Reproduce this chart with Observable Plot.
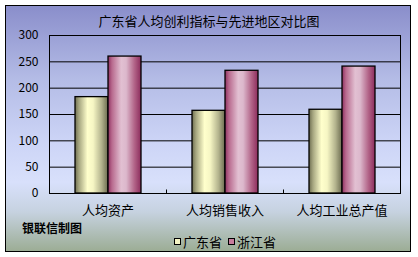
<!DOCTYPE html>
<html><head><meta charset="utf-8">
<script src="https://cdn.jsdelivr.net/npm/d3@7"></script>
<script src="https://cdn.jsdelivr.net/npm/@observablehq/plot@0.6"></script>
<style>
html,body{margin:0;padding:0;background:#fff;}
#wrap{position:relative;width:418px;height:257px;overflow:hidden;font-family:"Noto Sans CJK SC",sans-serif;color:#000;}
#box{position:absolute;left:5px;top:5px;width:404px;height:245px;border:1px solid #000;
 background:linear-gradient(to bottom,#8a8ecb 0%,#b4bce6 30%,#ccd4f6 55%,#d8e0fb 72%,#c6d2e0 84%,#9cad95 100%);}
#chart{position:absolute;left:0;top:0;}
#title{position:absolute;left:0;width:418px;top:12px;text-align:center;font-size:13px;line-height:18px;}
#src{position:absolute;left:22px;top:220px;font-size:12px;font-weight:bold;line-height:16px;}
#legend{position:absolute;left:174px;top:233px;font-size:13px;line-height:17px;display:flex;align-items:center;}
.sw{display:inline-block;width:5px;height:5px;border:1px solid #000;margin-right:2px;}
</style></head>
<body>
<div id="wrap">
  <div id="box"></div>
  <div id="title">广东省人均创利指标与先进地区对比图</div>
  <div id="src">银联信制图</div>
  <div id="legend"></div>
</div>
<script>
const categories = ["人均资产", "人均销售收入", "人均工业总产值"];
const series = ["广东省", "浙江省"];
const guangdong = [183, 157, 159];
const zhejiang = [260, 233, 241];
const yTicks = [0, 50, 100, 150, 200, 250, 300];
const seriesFill = ["url(#gGD)", "url(#gZJ)"];
const swatchColors = ["#f4f4c4", "#c87c9c"];

(function () {
const data = categories.flatMap((c, i) => [
  {cat: c, s: series[0], v: guangdong[i]},
  {cat: c, s: series[1], v: zhejiang[i]}
]);

const chart = Plot.plot({
  width: 418, height: 257,
  marginLeft: 48, marginRight: 18, marginTop: 35, marginBottom: 64,
  style: {background: "transparent", fontSize: "12px", fontFamily: "'Noto Sans CJK SC', sans-serif", color: "#000", overflow: "visible"},
  fx: {domain: categories, paddingInner: 0, paddingOuter: 0, axis: "bottom", label: null, tickSize: 0, tickPadding: 12},
  x: {domain: series, paddingInner: 0, paddingOuter: 0.725, axis: null},
  y: {domain: [0, 300], ticks: yTicks, tickSize: 0, tickPadding: 11, label: null},
  color: {domain: series, range: seriesFill},
  marks: [
    Plot.ruleY(yTicks, {stroke: "#000", strokeWidth: 1}),
    Plot.barY(data, {fx: "cat", x: "s", y: "v", fill: "s", stroke: "#000", strokeWidth: 1.3})
  ]
});
chart.id = "chart";

const NS = "http://www.w3.org/2000/svg";
function el(tag, attrs, parent) {
  const e = document.createElementNS(NS, tag);
  for (const k in attrs) e.setAttribute(k, attrs[k]);
  if (parent) parent.appendChild(e);
  return e;
}
const defs = el("defs", {});
chart.insertBefore(defs, chart.firstChild);
function grad(id, stops) {
  const g = el("linearGradient", {id, x1: "0", x2: "1", y1: "0", y2: "0"}, defs);
  stops.forEach(([o, c]) => el("stop", {offset: o, "stop-color": c}, g));
}
grad("gGD", [[0, "#6e6e50"], [0.12, "#a6a680"], [0.38, "#ffffcc"], [0.55, "#f6f6c4"], [0.8, "#b4b48e"], [1, "#6c6c50"]]);
grad("gZJ", [[0, "#8e3060"], [0.12, "#b86a8e"], [0.4, "#e2c0d2"], [0.55, "#dcb8cc"], [0.8, "#b26488"], [1, "#8c2c5c"]]);

const fxs = chart.scale("fx"), ys = chart.scale("y");
const x0 = fxs.apply(categories[0]);
const x1 = fxs.apply(categories[categories.length - 1]) + fxs.bandwidth;
const y0 = ys.apply(ys.domain[1]), y1 = ys.apply(ys.domain[0]);
const g = el("g", {stroke: "#000", fill: "none", "stroke-width": 1}, chart);
el("rect", {x: x0 + 0.5, y: y0 + 0.5, width: x1 - x0, height: y1 - y0}, g);
for (let i = 1; i < categories.length; i++) {
  const xx = fxs.apply(categories[i]) + 0.5;
  el("line", {x1: xx, x2: xx, y1: y1 + 0.5, y2: y1 - 3.5}, g);
}
const st = document.createElementNS(NS, "style");
st.textContent = `[aria-label^="fx-axis"] text{font-size:13px;}`;
chart.appendChild(st);

document.getElementById("wrap").insertBefore(chart, document.getElementById("title"));

const leg = document.getElementById("legend");
series.forEach((s, i) => {
  const sw = document.createElement("span");
  sw.className = "sw"; sw.style.background = swatchColors[i];
  const t = document.createElement("span");
  t.textContent = s; t.style.marginRight = i < series.length - 1 ? "6px" : "0";
  leg.appendChild(sw); leg.appendChild(t);
});
})();
</script>
</body></html>
